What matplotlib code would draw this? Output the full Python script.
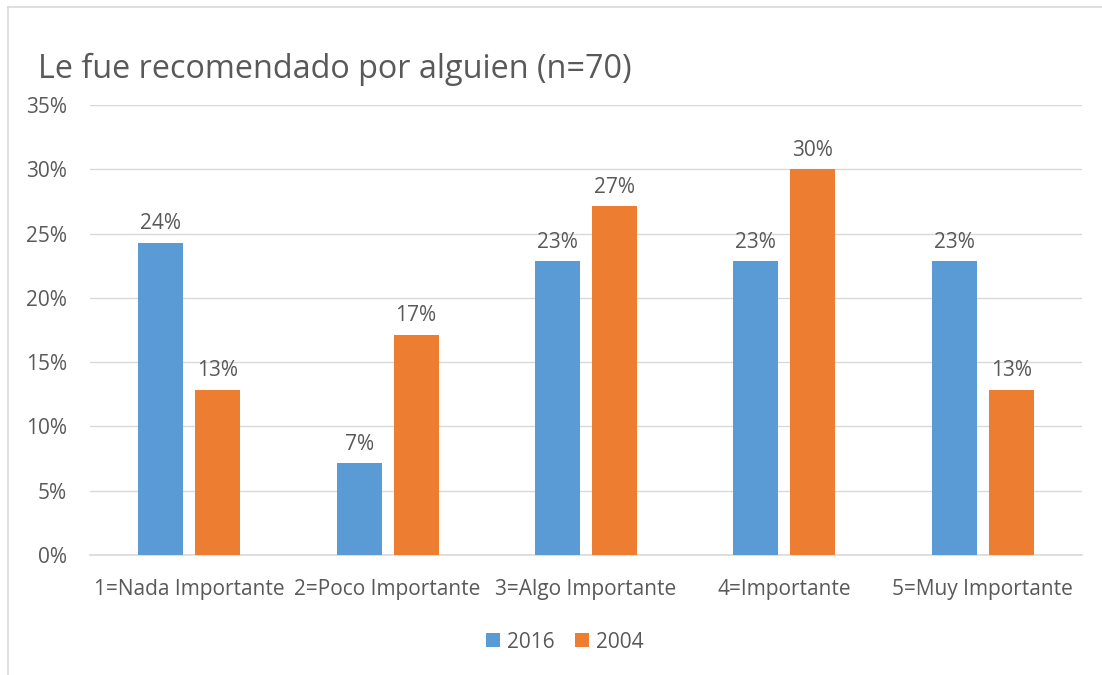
import matplotlib.pyplot as plt
import numpy as np

categorias = ['1=Nada Importante', '2=Poco Importante', '3=Algo Importante',
              '4=Importante', '5=Muy Importante']
serie_2016 = [17/70, 5/70, 16/70, 16/70, 16/70]
serie_2004 = [9/70, 12/70, 19/70, 21/70, 9/70]
etiquetas_y = ['0%', '5%', '10%', '15%', '20%', '25%', '30%', '35%']

gris = '#595959'
plt.rcParams['font.family'] = ['Open Sans', 'DejaVu Sans']

fig = plt.figure(figsize=(11.02, 6.75), dpi=100)
ax = fig.add_axes([90/1102, 120/675, 992/1102, 450/675])

x = np.arange(len(categorias))
w = 0.227
off = 0.1435
b1 = ax.bar(x - off, serie_2016, w, color='#5b9bd5', label='2016', zorder=3)
b2 = ax.bar(x + off, serie_2004, w, color='#ed7d31', label='2004', zorder=3)

for bars in (b1, b2):
    for b in bars:
        v = b.get_height()
        ax.annotate(f'{v*100:.0f}%', (b.get_x() + b.get_width()/2, v),
                    xytext=(0, 6), textcoords='offset points',
                    ha='center', va='bottom', fontsize=15, color=gris)

ax.set_xlim(-0.5, len(categorias) - 0.5)
ax.set_ylim(0, 0.35)
ax.set_yticks(np.arange(0, 0.351, 0.05))
ax.set_yticklabels(etiquetas_y)
ax.set_xticks(x)
ax.set_xticklabels(categorias)
ax.tick_params(axis='both', length=0, labelsize=15, colors=gris)
ax.tick_params(axis='y', pad=16.5)
ax.tick_params(axis='x', pad=17)
ax.grid(axis='y', color='#d9d9d9', lw=1, zorder=0)
for s in ['top', 'right', 'left']:
    ax.spines[s].set_visible(False)
ax.spines['bottom'].set_color('#d9d9d9')
ax.spines['bottom'].set_linewidth(1.2)

fig.text(38/1102, 1 - 69/675, 'Le fue recomendado por alguien (n=70)',
         fontsize=23.3, color=gris, ha='left', va='center')

ax.legend(loc='center', bbox_to_anchor=(565/1102, 1 - 642/675),
          bbox_transform=fig.transFigure, ncol=2, frameon=False,
          fontsize=15, labelcolor=gris, handlelength=0.65, handleheight=0.65,
          handletextpad=0.35, columnspacing=1.0)

# borde del grafico
fig.add_artist(plt.Line2D([8/1102, 8/1102], [0, 1 - 7/675], color='#d9d9d9', lw=1.2))
fig.add_artist(plt.Line2D([8/1102, 1], [1 - 7/675, 1 - 7/675], color='#d9d9d9', lw=1.2))

fig.savefig('out.png', dpi=100)
